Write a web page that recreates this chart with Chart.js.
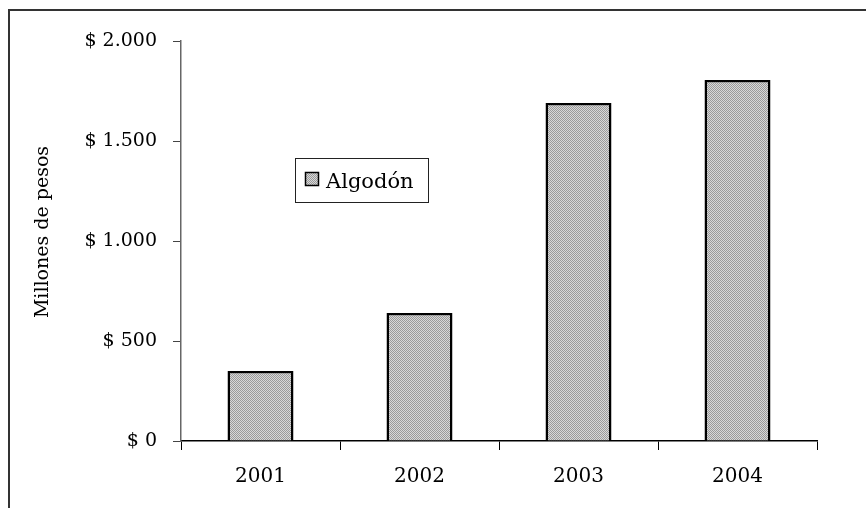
<!DOCTYPE html>
<html>
<head>
<meta charset="utf-8">
<script src="https://cdn.jsdelivr.net/npm/chart.js@4"></script>
<style>
html,body{margin:0;padding:0;background:#fff;}
#wrap{width:866px;height:508px;position:relative;}
</style>
</head>
<body>
<div id="wrap"><canvas id="c" width="866" height="508"></canvas></div>
<script>
const categories = ["2001", "2002", "2003", "2004"];
const seriesName = "Algodón";
const seriesValues = [350, 640, 1690, 1805];
const yTickValues = [0, 500, 1000, 1500, 2000];
const yAxisTitle = "Millones de pesos";

function makePattern() {
  const p = document.createElement('canvas');
  p.width = 2; p.height = 2;
  const g = p.getContext('2d');
  g.fillStyle = '#d8d8d8'; g.fillRect(0, 0, 2, 2);
  g.fillStyle = '#9a9a9a'; g.fillRect(0, 0, 1, 1); g.fillRect(1, 1, 1, 1);
  return g.createPattern(p, 'repeat');
}
const pattern = makePattern();

function fmt(v) {
  return '$ ' + Math.round(v).toString().replace(/\B(?=(\d{3})+(?!\d))/g, '.');
}

const framePlugin = {
  id: 'frame',
  beforeDraw(chart) {
    const ctx = chart.ctx;
    ctx.save();
    ctx.fillStyle = '#fff';
    ctx.fillRect(0, 0, chart.width, chart.height);
    ctx.strokeStyle = '#333';
    ctx.lineWidth = 2;
    ctx.strokeRect(9, 10, 1000, 1000);
    ctx.restore();
  },
  afterDraw(chart) {
    const ctx = chart.ctx;
    ctx.save();
    ctx.translate(43, 232);
    ctx.rotate(-Math.PI / 2);
    ctx.fillStyle = '#000';
    ctx.font = '19px "DejaVu Serif"';
    ctx.textAlign = 'center';
    ctx.textBaseline = 'middle';
    ctx.fillText(yAxisTitle, 0, 0);
    ctx.restore();
  }
};

const legendBoxPlugin = {
  id: 'legendBox',
  afterDraw(chart) {
    const ctx = chart.ctx;
    const ds = chart.data.datasets[0];
    ctx.save();
    ctx.fillStyle = '#fff';
    ctx.fillRect(295, 158, 133, 44);
    ctx.strokeStyle = '#222';
    ctx.lineWidth = 1;
    ctx.strokeRect(295.5, 158.5, 133, 44);
    ctx.fillStyle = ds.backgroundColor;
    ctx.fillRect(305, 172, 14, 14);
    ctx.lineWidth = 1.5;
    ctx.strokeStyle = '#000';
    ctx.strokeRect(305.5, 172.5, 13, 13);
    ctx.fillStyle = '#000';
    ctx.font = '21px "DejaVu Serif"';
    ctx.textBaseline = 'alphabetic';
    ctx.textAlign = 'left';
    ctx.fillText(ds.label, 326, 188);
    ctx.restore();
  }
};

new Chart(document.getElementById('c'), {
  type: 'bar',
  data: {
    labels: categories,
    datasets: [{
      label: seriesName,
      data: seriesValues,
      backgroundColor: pattern,
      borderColor: '#000',
      borderWidth: 2.5,
      borderSkipped: 'bottom',
      barPercentage: 0.415,
      categoryPercentage: 1.0
    }]
  },
  options: {
    responsive: false,
    animation: false,
    devicePixelRatio: 1,
    layout: { padding: { top: 41, right: 49, left: 0, bottom: 0 } },
    plugins: { legend: { display: false }, tooltip: { enabled: false }, title: { display: false } },
    scales: {
      x: {
        afterFit(s) { s.height = 67; },
        grid: {
          offset: true,
          drawOnChartArea: false,
          drawTicks: true,
          tickLength: 9,
          color: '#000',
          lineWidth: 1
        },
        border: { display: true, color: '#000', width: 1.5 },
        ticks: {
          color: '#000',
          padding: 15,
          font: { family: 'DejaVu Serif', size: 20 }
        }
      },
      y: {
        min: 0,
        max: 2000,
        afterFit(s) { s.width = 181; },
        afterBuildTicks(s) { s.ticks = yTickValues.map(v => ({ value: v })); },
        grid: {
          drawOnChartArea: false,
          drawTicks: true,
          tickLength: 8,
          color: '#444',
          lineWidth: 1
        },
        border: { display: true, color: '#666', width: 1.5 },
        ticks: {
          color: '#000',
          padding: 16,
          font: { family: 'DejaVu Serif', size: 19 },
          callback: v => fmt(v)
        },
        title: { display: false }
      }
    }
  },
  plugins: [framePlugin, legendBoxPlugin]
});
</script>
</body>
</html>
